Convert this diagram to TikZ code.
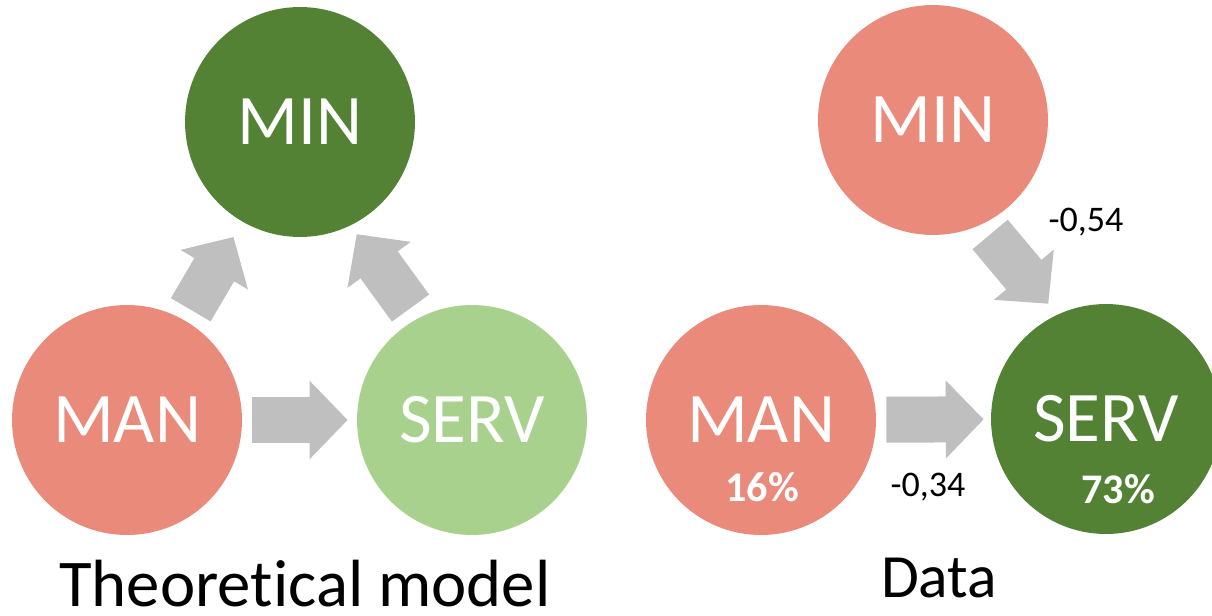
\documentclass[tikz,border=0pt]{standalone}
\usepackage{fontspec}
\setmainfont[Ligatures=NoCommon]{Carlito}
\usepackage{tikz}
\usetikzlibrary{arrows.meta,positioning}
\definecolor{mingreen}{HTML}{548235}
\definecolor{salmon}{HTML}{E98A7A}
\definecolor{lightgreen}{HTML}{A9D18E}
\definecolor{arrowgray}{HTML}{BFBFBF}
\tikzset{
  bubble/.style={circle, minimum size=4.6cm, inner sep=0pt, text=white, font=\fontsize{40.5}{48}\selectfont},
  pct/.style={text=white, inner sep=0pt, font=\bfseries\fontsize{24}{28}\selectfont},
  coef/.style={inner sep=0pt, font=\fontsize{20.5}{24}\selectfont},
  caption/.style={inner sep=0pt, font=\fontsize{35}{42}\selectfont},
  blockarrow/.style={draw=arrowgray, line width=0.92cm, -{Triangle[length=0.76cm,width=1.52cm]}}
}
\begin{document}
\begin{tikzpicture}[x=0.02cm, y=-0.02cm]
\useasboundingbox (0,0) rectangle (1212,615);
% theoretical model
\node[bubble, fill=mingreen] (min) at (300,122) {MIN};
\node[bubble, fill=salmon] (man) at (127,420) {MAN};
\node[bubble, fill=lightgreen] (serv) at (472,420) {SERV};
\draw[blockarrow, shorten <=0.2cm, shorten >=0.18cm] (man) -- (serv);
\draw[blockarrow, shorten <=0.24cm, shorten >=0.35cm] (man.60) -- (min.-120);
\draw[blockarrow, shorten <=0.25cm, shorten >=0.21cm] (serv.118) -- (min.-64);
\node[caption, anchor=base, font=\fontsize{38}{44}\selectfont] (theory) at (305,606) {Theoretical model};
% data
\node[bubble, fill=salmon] (dmin) at (933,120) {MIN};
\node[bubble, fill=salmon] (dman) at (761,420) {MAN};
\node[bubble, fill=mingreen] (dserv) at (1106,419) {SERV};
\node[pct] (dmanpct) at (762,487) {16\%};
\node[pct] (dservpct) at (1118,489) {73\%};
\draw[blockarrow, shorten <=0.2cm, shorten >=0.14cm] (dman) -- (dserv);
\draw[blockarrow, shorten <=0.26cm, shorten >=0.28cm] (dmin.-65) -- (dserv.115);
\node[coef] (coefmin) at (1086,222) {-0,54};
\node[coef] (coefman) at (928,487) {-0,34};
\node[caption, anchor=base] (data) at (939,597) {Data};
\end{tikzpicture}
\end{document}
